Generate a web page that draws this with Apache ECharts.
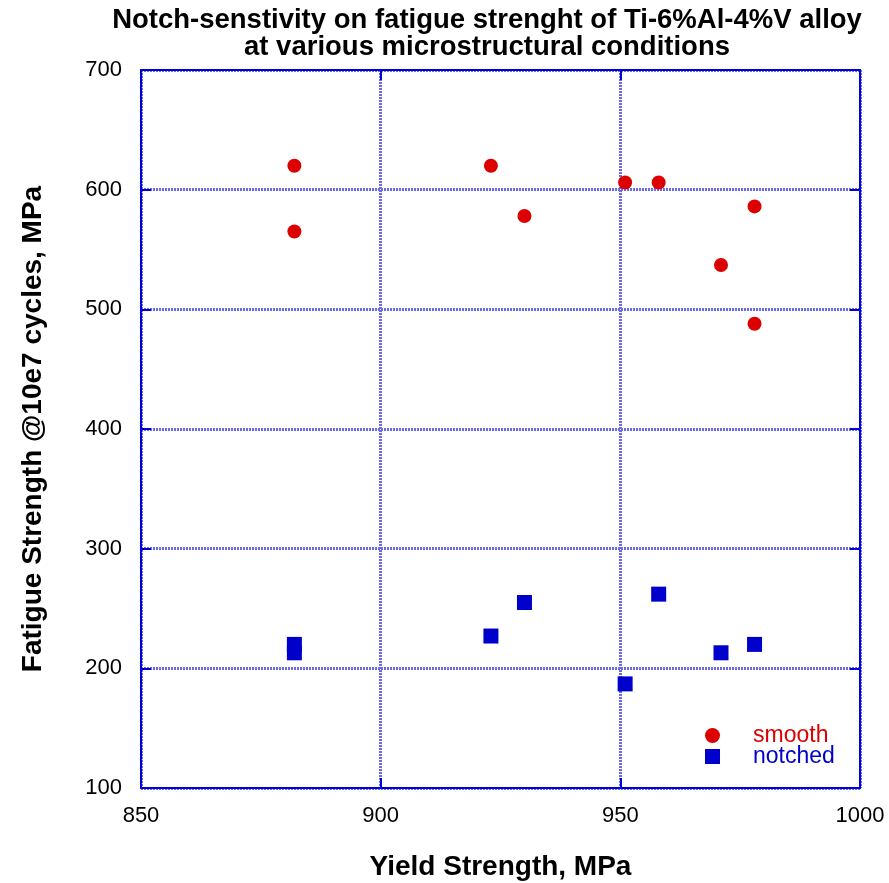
<!DOCTYPE html>
<html>
<head>
<meta charset="utf-8">
<script src="https://cdn.jsdelivr.net/npm/echarts@6/dist/echarts.min.js"></script>
<style>
html,body{margin:0;padding:0;background:#fff;}
#chart{width:889px;height:883px;}
</style>
</head>
<body>
<div id="chart"></div>
<script>
var titleLines = ['Notch-senstivity on fatigue strenght of Ti-6%Al-4%V alloy', 'at various microstructural conditions'];
var xName = 'Yield Strength, MPa';
var yName = 'Fatigue Strength @10e7 cycles, MPa';
var seriesNames = ['smooth', 'notched'];
var xTicks = [850, 900, 950, 1000];
var yTicks = [100, 200, 300, 400, 500, 600, 700];
var smoothX = [882, 882, 923, 930, 951, 958, 978, 971, 978];
var smoothY = [620, 565, 620, 578, 606, 606, 586, 537, 488];
var notchedX = [882, 882, 923, 930, 951, 958, 971, 978];
var notchedY = [220, 213, 227, 255, 187, 262, 213, 220];

function pairs(xs, ys){ return xs.map(function(x,i){ return [x, ys[i]]; }); }

var FONT = '"Liberation Sans", Arial, sans-serif';
var AX = '#0000dd';
var GRID = '#6a6ae4';
var RED = '#dd0000';
var BLUE = '#0000cc';

var chart = echarts.init(document.getElementById('chart'), null, {renderer:'canvas'});

function xAxisCfg(pos, showLabels){
  return {
    type:'value', position:pos, min:xTicks[0], max:xTicks[xTicks.length-1], interval:50,
    axisLine:{show:true, onZero:false, lineStyle:{color:AX, width:2}},
    axisTick:{show:true, inside:true, length:10, lineStyle:{color:AX, width:2}},
    axisLabel:{show:showLabels, color:'#000', fontSize:22, fontFamily:FONT, margin:17,
               formatter:function(v){ return String(v); }},
    splitLine:{show:showLabels, lineStyle:{color:GRID, width:3, type:[2,1]}},
    name: showLabels ? xName : '', nameLocation:'middle', nameGap:65,
    nameTextStyle:{color:'#000', fontSize:28, fontWeight:'bold', fontFamily:FONT}
  };
}
function yAxisCfg(pos, showLabels){
  return {
    type:'value', position:pos, min:yTicks[0], max:yTicks[yTicks.length-1], interval:100,
    axisLine:{show:true, onZero:false, lineStyle:{color:AX, width:2}},
    axisTick:{show:true, inside:true, length:10, lineStyle:{color:AX, width:2}},
    axisLabel:{show:showLabels, color:'#000', fontSize:22, fontFamily:FONT, margin:19,
               formatter:function(v){ return String(v); }},
    splitLine:{show:showLabels, lineStyle:{color:GRID, width:3, type:[2,1]}},
    name: showLabels ? yName : '', nameLocation:'middle', nameGap:94,
    nameTextStyle:{color:'#000', fontSize:28, fontWeight:'bold', fontFamily:FONT}
  };
}

chart.setOption({
  animation:false,
  backgroundColor:'#fff',
  grid:{left:141, right:29, top:70, bottom:95, containLabel:false, outerBoundsMode:'none'},
  xAxis:[xAxisCfg('bottom', true), xAxisCfg('top', false)],
  yAxis:[yAxisCfg('left', true), yAxisCfg('right', false)],
  graphic:[
    {type:'text', z:10,
     style:{x:487, y:7, text:titleLines.join('\n'), font:'bold 27.5px ' + FONT, fill:'#000',
            textAlign:'center', textVerticalAlign:'top', lineHeight:27}},
    {type:'rect', shape:{x:667, y:717, width:191, height:69}, z:3, style:{fill:'#fff'}}
  ],
  legend:{
    orient:'vertical', left:700, top:719, z:5, itemGap:-2, itemWidth:15, itemHeight:15,
    textStyle:{fontSize:23, fontFamily:FONT, lineHeight:20, padding:[0,0,0,28]},
    data:[
      {name:seriesNames[0], icon:'circle', textStyle:{color:RED}},
      {name:seriesNames[1], icon:'rect', textStyle:{color:BLUE}}
    ]
  },
  series:[
    {name:seriesNames[0], type:'scatter', symbol:'circle', symbolSize:14,
     itemStyle:{color:RED, opacity:1}, data:pairs(smoothX, smoothY)},
    {name:seriesNames[1], type:'scatter', symbol:'rect', symbolSize:15,
     itemStyle:{color:BLUE, opacity:1}, data:pairs(notchedX, notchedY)}
  ]
});
</script>
</body>
</html>
